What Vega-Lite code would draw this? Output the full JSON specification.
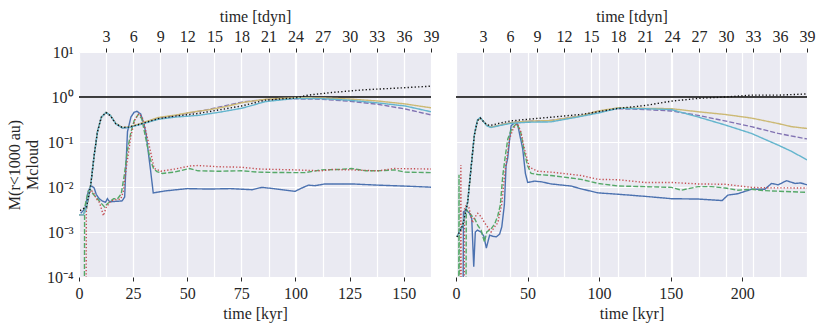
{
"$schema": "https://vega.github.io/schema/vega-lite/v6.json",
"padding": {"left": 6, "top": 8, "right": 5, "bottom": 3},
"background": "white",
"config": {
 "view": {"fill": "#EAEAF2", "stroke": null},
 "font": "Liberation Serif",
 "axis": {"domain": false, "gridColor": "white", "gridWidth": 1.2, "labelFont": "Liberation Serif", "titleFont": "Liberation Serif", "labelFontSize": 16, "titleFontSize": 16, "labelColor": "#262626", "titleColor": "#262626", "titleFontWeight": "normal", "tickColor": "#262626", "tickSize": 4, "labelFlush": false, "labelOverlap": false, "labelPadding": 4, "titlePadding": 4}
},
"datasets": {
 "one_left": [{"t":0,"v":1},{"t":162.63,"v":1}],
 "one_right": [{"t":0,"v":1},{"t":245.31,"v":1}],
 "left": [
{"s":"blue","t":0.8,"v":0.0026},{"s":"blue","t":2,"v":0.003},{"s":"blue","t":3,"v":0.0036},{"s":"blue","t":4,"v":0.007},{"s":"blue","t":5,"v":0.0098},{"s":"blue","t":6,"v":0.0104},{"s":"blue","t":7,"v":0.0095},{"s":"blue","t":8,"v":0.0068},{"s":"blue","t":9.3,"v":0.0055},{"s":"blue","t":10.5,"v":0.005},{"s":"blue","t":11.6,"v":0.0047},{"s":"blue","t":12.3,"v":0.0046},{"s":"blue","t":13.1,"v":0.0055},{"s":"blue","t":14,"v":0.0048},{"s":"blue","t":15,"v":0.0047},{"s":"blue","t":17,"v":0.0048},{"s":"blue","t":19.9,"v":0.0049},{"s":"blue","t":21.1,"v":0.006},{"s":"blue","t":21.7,"v":0.03},{"s":"blue","t":22.4,"v":0.17},{"s":"blue","t":24,"v":0.36},{"s":"blue","t":25.5,"v":0.46},{"s":"blue","t":26.8,"v":0.48},{"s":"blue","t":28.5,"v":0.42},{"s":"blue","t":30,"v":0.25},{"s":"blue","t":31,"v":0.15},{"s":"blue","t":32,"v":0.06},{"s":"blue","t":33,"v":0.025},{"s":"blue","t":34.3,"v":0.0074},{"s":"blue","t":40,"v":0.0082},{"s":"blue","t":50,"v":0.0092},{"s":"blue","t":60,"v":0.009},{"s":"blue","t":70,"v":0.0092},{"s":"blue","t":80,"v":0.0087},{"s":"blue","t":84.4,"v":0.0098},{"s":"blue","t":90,"v":0.0092},{"s":"blue","t":99.8,"v":0.008},{"s":"blue","t":103,"v":0.0095},{"s":"blue","t":106,"v":0.011},{"s":"blue","t":109,"v":0.0107},{"s":"blue","t":113.7,"v":0.0117},{"s":"blue","t":126,"v":0.0117},{"s":"blue","t":138,"v":0.011},{"s":"blue","t":150,"v":0.0105},{"s":"blue","t":162.63,"v":0.0099},
{"s":"green","t":2.4,"v":0.000001},{"s":"green","t":2.6,"v":0.0035},{"s":"green","t":3.5,"v":0.0055},{"s":"green","t":4.3,"v":0.0082},{"s":"green","t":5.4,"v":0.0085},{"s":"green","t":6.5,"v":0.007},{"s":"green","t":8.5,"v":0.0055},{"s":"green","t":10,"v":0.0045},{"s":"green","t":11.8,"v":0.0036},{"s":"green","t":13,"v":0.0042},{"s":"green","t":14.7,"v":0.0049},{"s":"green","t":16,"v":0.0055},{"s":"green","t":17.8,"v":0.0055},{"s":"green","t":19.5,"v":0.007},{"s":"green","t":20.9,"v":0.018},{"s":"green","t":22.5,"v":0.07},{"s":"green","t":24,"v":0.166},{"s":"green","t":25.5,"v":0.3},{"s":"green","t":27.4,"v":0.41},{"s":"green","t":29,"v":0.33},{"s":"green","t":31.6,"v":0.08},{"s":"green","t":33,"v":0.04},{"s":"green","t":34.4,"v":0.026},{"s":"green","t":36,"v":0.022},{"s":"green","t":38.5,"v":0.02},{"s":"green","t":44,"v":0.0214},{"s":"green","t":51,"v":0.0257},{"s":"green","t":55,"v":0.0229},{"s":"green","t":64.4,"v":0.0224},{"s":"green","t":75,"v":0.0229},{"s":"green","t":83,"v":0.0214},{"s":"green","t":90,"v":0.021},{"s":"green","t":99.8,"v":0.0209},{"s":"green","t":104.4,"v":0.0209},{"s":"green","t":112,"v":0.024},{"s":"green","t":120,"v":0.0245},{"s":"green","t":126,"v":0.0257},{"s":"green","t":132.5,"v":0.0229},{"s":"green","t":138,"v":0.0229},{"s":"green","t":145.8,"v":0.024},{"s":"green","t":150.8,"v":0.0214},{"s":"green","t":162.63,"v":0.0209},
{"s":"red","t":3.2,"v":0.000001},{"s":"red","t":3.4,"v":0.003},{"s":"red","t":4.5,"v":0.006},{"s":"red","t":5.5,"v":0.0085},{"s":"red","t":6.5,"v":0.0078},{"s":"red","t":8,"v":0.0055},{"s":"red","t":9.5,"v":0.0045},{"s":"red","t":11.3,"v":0.0023},{"s":"red","t":12.5,"v":0.0035},{"s":"red","t":14.7,"v":0.0049},{"s":"red","t":17,"v":0.0052},{"s":"red","t":19.3,"v":0.0054},{"s":"red","t":20.5,"v":0.008},{"s":"red","t":22,"v":0.03},{"s":"red","t":24,"v":0.14},{"s":"red","t":26,"v":0.33},{"s":"red","t":27.8,"v":0.43},{"s":"red","t":29.5,"v":0.33},{"s":"red","t":32.4,"v":0.085},{"s":"red","t":34.7,"v":0.026},{"s":"red","t":37.8,"v":0.0224},{"s":"red","t":44,"v":0.025},{"s":"red","t":51.7,"v":0.0295},{"s":"red","t":55,"v":0.03},{"s":"red","t":64.4,"v":0.0282},{"s":"red","t":75,"v":0.0275},{"s":"red","t":83,"v":0.0251},{"s":"red","t":99.8,"v":0.024},{"s":"red","t":112,"v":0.0229},{"s":"red","t":116.8,"v":0.0245},{"s":"red","t":126,"v":0.024},{"s":"red","t":138,"v":0.0229},{"s":"red","t":145.8,"v":0.0257},{"s":"red","t":162.63,"v":0.0251},
{"s":"purple","t":0,"v":0.0024},{"s":"purple","t":2,"v":0.0024},{"s":"purple","t":3.5,"v":0.0036},{"s":"purple","t":5.4,"v":0.011},{"s":"purple","t":7,"v":0.05},{"s":"purple","t":8.5,"v":0.166},{"s":"purple","t":10.3,"v":0.355},{"s":"purple","t":12.5,"v":0.45},{"s":"purple","t":14.5,"v":0.385},{"s":"purple","t":17,"v":0.255},{"s":"purple","t":20,"v":0.205},{"s":"purple","t":23,"v":0.21},{"s":"purple","t":27,"v":0.24},{"s":"purple","t":36.6,"v":0.34},{"s":"purple","t":45,"v":0.39},{"s":"purple","t":52,"v":0.45},{"s":"purple","t":60,"v":0.53},{"s":"purple","t":67,"v":0.63},{"s":"purple","t":76,"v":0.78},{"s":"purple","t":86,"v":0.88},{"s":"purple","t":100,"v":0.91},{"s":"purple","t":112,"v":0.89},{"s":"purple","t":124.5,"v":0.81},{"s":"purple","t":138,"v":0.69},{"s":"purple","t":150.8,"v":0.54},{"s":"purple","t":162.63,"v":0.40},
{"s":"yellow","t":0,"v":0.0024},{"s":"yellow","t":2,"v":0.0024},{"s":"yellow","t":3.5,"v":0.0036},{"s":"yellow","t":5.4,"v":0.011},{"s":"yellow","t":7,"v":0.05},{"s":"yellow","t":8.5,"v":0.166},{"s":"yellow","t":10.3,"v":0.355},{"s":"yellow","t":12.5,"v":0.455},{"s":"yellow","t":14.5,"v":0.39},{"s":"yellow","t":17,"v":0.26},{"s":"yellow","t":20,"v":0.21},{"s":"yellow","t":23,"v":0.215},{"s":"yellow","t":27,"v":0.245},{"s":"yellow","t":36.6,"v":0.35},{"s":"yellow","t":45,"v":0.40},{"s":"yellow","t":52,"v":0.46},{"s":"yellow","t":60,"v":0.52},{"s":"yellow","t":67,"v":0.60},{"s":"yellow","t":76,"v":0.76},{"s":"yellow","t":86,"v":0.89},{"s":"yellow","t":100,"v":0.965},{"s":"yellow","t":112,"v":0.955},{"s":"yellow","t":124.5,"v":0.905},{"s":"yellow","t":138,"v":0.815},{"s":"yellow","t":150.8,"v":0.70},{"s":"yellow","t":162.63,"v":0.575},
{"s":"cyan","t":0,"v":0.0024},{"s":"cyan","t":2,"v":0.0024},{"s":"cyan","t":3.5,"v":0.0036},{"s":"cyan","t":5.4,"v":0.011},{"s":"cyan","t":7,"v":0.05},{"s":"cyan","t":8.5,"v":0.166},{"s":"cyan","t":10.3,"v":0.355},{"s":"cyan","t":12.5,"v":0.455},{"s":"cyan","t":14.5,"v":0.39},{"s":"cyan","t":17,"v":0.255},{"s":"cyan","t":20,"v":0.205},{"s":"cyan","t":23,"v":0.21},{"s":"cyan","t":27,"v":0.235},{"s":"cyan","t":36.6,"v":0.32},{"s":"cyan","t":45,"v":0.36},{"s":"cyan","t":55,"v":0.39},{"s":"cyan","t":65,"v":0.46},{"s":"cyan","t":75,"v":0.56},{"s":"cyan","t":80,"v":0.65},{"s":"cyan","t":86,"v":0.79},{"s":"cyan","t":100,"v":0.93},{"s":"cyan","t":112,"v":0.92},{"s":"cyan","t":124.5,"v":0.85},{"s":"cyan","t":138,"v":0.74},{"s":"cyan","t":150.8,"v":0.63},{"s":"cyan","t":162.63,"v":0.47},
{"s":"black","t":0.5,"v":0.003},{"s":"black","t":2,"v":0.0033},{"s":"black","t":3.5,"v":0.0036},{"s":"black","t":5.4,"v":0.011},{"s":"black","t":7,"v":0.05},{"s":"black","t":8.5,"v":0.166},{"s":"black","t":10.3,"v":0.355},{"s":"black","t":12.5,"v":0.45},{"s":"black","t":14.5,"v":0.385},{"s":"black","t":17,"v":0.255},{"s":"black","t":20,"v":0.21},{"s":"black","t":23,"v":0.215},{"s":"black","t":27,"v":0.24},{"s":"black","t":36.6,"v":0.33},{"s":"black","t":45,"v":0.38},{"s":"black","t":55,"v":0.43},{"s":"black","t":65,"v":0.52},{"s":"black","t":75,"v":0.63},{"s":"black","t":86,"v":0.85},{"s":"black","t":100,"v":0.955},{"s":"black","t":106,"v":1.10},{"s":"black","t":116.7,"v":1.26},{"s":"black","t":132,"v":1.45},{"s":"black","t":147.5,"v":1.58},{"s":"black","t":162.63,"v":1.74}
 ],
 "right": [
{"s":"blue","t":4.8,"v":0.000001},{"s":"blue","t":5.2,"v":0.0028},{"s":"blue","t":6.5,"v":0.003},{"s":"blue","t":8,"v":0.0029},{"s":"blue","t":9.5,"v":0.0026},{"s":"blue","t":11,"v":0.002},{"s":"blue","t":12.4,"v":0.00017},{"s":"blue","t":13.5,"v":0.001},{"s":"blue","t":15,"v":0.0011},{"s":"blue","t":17.5,"v":0.001},{"s":"blue","t":19.5,"v":0.0008},{"s":"blue","t":21.2,"v":0.00044},{"s":"blue","t":23.5,"v":0.00085},{"s":"blue","t":26,"v":0.0008},{"s":"blue","t":28.2,"v":0.00078},{"s":"blue","t":30.5,"v":0.0009},{"s":"blue","t":32,"v":0.0013},{"s":"blue","t":33.8,"v":0.004},{"s":"blue","t":35,"v":0.03},{"s":"blue","t":36.1,"v":0.043},{"s":"blue","t":38.5,"v":0.23},{"s":"blue","t":41.3,"v":0.275},{"s":"blue","t":43,"v":0.25},{"s":"blue","t":46.6,"v":0.071},{"s":"blue","t":48.5,"v":0.02},{"s":"blue","t":50.1,"v":0.0126},{"s":"blue","t":54.9,"v":0.0135},{"s":"blue","t":60,"v":0.013},{"s":"blue","t":66.4,"v":0.0117},{"s":"blue","t":80.4,"v":0.0105},{"s":"blue","t":87.4,"v":0.0091},{"s":"blue","t":99.3,"v":0.0074},{"s":"blue","t":113.3,"v":0.0069},{"s":"blue","t":132,"v":0.0062},{"s":"blue","t":150.6,"v":0.0055},{"s":"blue","t":169.2,"v":0.0054},{"s":"blue","t":186,"v":0.005},{"s":"blue","t":190,"v":0.0066},{"s":"blue","t":197,"v":0.0071},{"s":"blue","t":206.5,"v":0.0089},{"s":"blue","t":215.8,"v":0.0089},{"s":"blue","t":220.5,"v":0.012},{"s":"blue","t":225.2,"v":0.0112},{"s":"blue","t":231,"v":0.0138},{"s":"blue","t":237,"v":0.012},{"s":"blue","t":241,"v":0.0123},{"s":"blue","t":245.31,"v":0.0112},
{"s":"green","t":1.8,"v":0.000001},{"s":"green","t":2.1,"v":0.0186},{"s":"green","t":2.4,"v":0.000001},{"s":"green","t":6.8,"v":0.000001},{"s":"green","t":7.2,"v":0.0032},{"s":"green","t":8.5,"v":0.0028},{"s":"green","t":10,"v":0.0025},{"s":"green","t":12,"v":0.0021},{"s":"green","t":13,"v":0.002},{"s":"green","t":15.2,"v":0.0014},{"s":"green","t":17.5,"v":0.0011},{"s":"green","t":19.9,"v":0.0006},{"s":"green","t":21.5,"v":0.001},{"s":"green","t":24.5,"v":0.00117},{"s":"green","t":27,"v":0.0015},{"s":"green","t":29.2,"v":0.0023},{"s":"green","t":31,"v":0.004},{"s":"green","t":32.7,"v":0.018},{"s":"green","t":34.5,"v":0.05},{"s":"green","t":36.2,"v":0.117},{"s":"green","t":39,"v":0.2},{"s":"green","t":42.3,"v":0.257},{"s":"green","t":45,"v":0.18},{"s":"green","t":47.8,"v":0.06},{"s":"green","t":50,"v":0.03},{"s":"green","t":52.5,"v":0.02},{"s":"green","t":57.1,"v":0.019},{"s":"green","t":66.4,"v":0.018},{"s":"green","t":87.4,"v":0.0148},{"s":"green","t":99.3,"v":0.012},{"s":"green","t":113.3,"v":0.0105},{"s":"green","t":132,"v":0.0102},{"s":"green","t":150.6,"v":0.0098},{"s":"green","t":157.5,"v":0.0085},{"s":"green","t":169.2,"v":0.0102},{"s":"green","t":178.6,"v":0.0102},{"s":"green","t":188,"v":0.0095},{"s":"green","t":197,"v":0.0085},{"s":"green","t":206.5,"v":0.0089},{"s":"green","t":215.8,"v":0.0083},{"s":"green","t":245.31,"v":0.0076},
{"s":"red","t":3.1,"v":0.000001},{"s":"red","t":3.4,"v":0.031},{"s":"red","t":3.7,"v":0.000001},{"s":"red","t":5.5,"v":0.000001},{"s":"red","t":6,"v":0.0033},{"s":"red","t":7.5,"v":0.0042},{"s":"red","t":9,"v":0.0035},{"s":"red","t":11.6,"v":0.0016},{"s":"red","t":13,"v":0.0021},{"s":"red","t":15.2,"v":0.0026},{"s":"red","t":17.5,"v":0.0022},{"s":"red","t":20,"v":0.0016},{"s":"red","t":24.5,"v":0.001},{"s":"red","t":27,"v":0.0013},{"s":"red","t":29.2,"v":0.0016},{"s":"red","t":32,"v":0.0042},{"s":"red","t":33.9,"v":0.018},{"s":"red","t":37.4,"v":0.117},{"s":"red","t":40,"v":0.2},{"s":"red","t":43.1,"v":0.257},{"s":"red","t":45.5,"v":0.16},{"s":"red","t":47.8,"v":0.07},{"s":"red","t":51.3,"v":0.0275},{"s":"red","t":57.1,"v":0.0224},{"s":"red","t":66.4,"v":0.0214},{"s":"red","t":87.4,"v":0.018},{"s":"red","t":99.3,"v":0.0148},{"s":"red","t":113.3,"v":0.0145},{"s":"red","t":132,"v":0.0126},{"s":"red","t":150.6,"v":0.0126},{"s":"red","t":169.2,"v":0.0117},{"s":"red","t":188,"v":0.0115},{"s":"red","t":206.5,"v":0.0098},{"s":"red","t":215.8,"v":0.0096},{"s":"red","t":245.31,"v":0.0095},
{"s":"purple","t":0.7,"v":0.00078},{"s":"purple","t":4.7,"v":0.0014},{"s":"purple","t":8.2,"v":0.0047},{"s":"purple","t":10.5,"v":0.026},{"s":"purple","t":12.8,"v":0.14},{"s":"purple","t":15,"v":0.3},{"s":"purple","t":17,"v":0.34},{"s":"purple","t":19,"v":0.29},{"s":"purple","t":21.5,"v":0.235},{"s":"purple","t":24.5,"v":0.214},{"s":"purple","t":30,"v":0.235},{"s":"purple","t":38.5,"v":0.27},{"s":"purple","t":50,"v":0.29},{"s":"purple","t":66.4,"v":0.3},{"s":"purple","t":87.4,"v":0.38},{"s":"purple","t":99.3,"v":0.48},{"s":"purple","t":113.3,"v":0.55},{"s":"purple","t":132,"v":0.525},{"s":"purple","t":150.6,"v":0.49},{"s":"purple","t":169.2,"v":0.39},{"s":"purple","t":187.9,"v":0.295},{"s":"purple","t":206.5,"v":0.219},{"s":"purple","t":225.2,"v":0.155},{"s":"purple","t":245.31,"v":0.117},
{"s":"yellow","t":0.7,"v":0.00078},{"s":"yellow","t":4.7,"v":0.0014},{"s":"yellow","t":8.2,"v":0.0047},{"s":"yellow","t":10.5,"v":0.026},{"s":"yellow","t":12.8,"v":0.14},{"s":"yellow","t":15,"v":0.3},{"s":"yellow","t":17,"v":0.34},{"s":"yellow","t":19,"v":0.29},{"s":"yellow","t":21.5,"v":0.235},{"s":"yellow","t":24.5,"v":0.214},{"s":"yellow","t":30,"v":0.235},{"s":"yellow","t":38.5,"v":0.27},{"s":"yellow","t":50,"v":0.29},{"s":"yellow","t":66.4,"v":0.3},{"s":"yellow","t":87.4,"v":0.38},{"s":"yellow","t":99.3,"v":0.49},{"s":"yellow","t":113.3,"v":0.575},{"s":"yellow","t":132,"v":0.56},{"s":"yellow","t":150.6,"v":0.55},{"s":"yellow","t":169.2,"v":0.47},{"s":"yellow","t":187.9,"v":0.41},{"s":"yellow","t":206.5,"v":0.34},{"s":"yellow","t":225.2,"v":0.257},{"s":"yellow","t":234.5,"v":0.219},{"s":"yellow","t":245.31,"v":0.2},
{"s":"cyan","t":0.7,"v":0.00078},{"s":"cyan","t":4.7,"v":0.0014},{"s":"cyan","t":8.2,"v":0.0047},{"s":"cyan","t":10.5,"v":0.026},{"s":"cyan","t":12.8,"v":0.145},{"s":"cyan","t":15,"v":0.31},{"s":"cyan","t":17,"v":0.35},{"s":"cyan","t":19,"v":0.29},{"s":"cyan","t":21.5,"v":0.23},{"s":"cyan","t":24.5,"v":0.21},{"s":"cyan","t":30,"v":0.23},{"s":"cyan","t":38.5,"v":0.26},{"s":"cyan","t":50,"v":0.275},{"s":"cyan","t":66.4,"v":0.28},{"s":"cyan","t":85.3,"v":0.36},{"s":"cyan","t":99.3,"v":0.44},{"s":"cyan","t":113.3,"v":0.56},{"s":"cyan","t":132,"v":0.55},{"s":"cyan","t":150.6,"v":0.525},{"s":"cyan","t":169.2,"v":0.36},{"s":"cyan","t":187.9,"v":0.24},{"s":"cyan","t":206.5,"v":0.155},{"s":"cyan","t":225.2,"v":0.085},{"s":"cyan","t":234.5,"v":0.062},{"s":"cyan","t":245.31,"v":0.04},
{"s":"black","t":0.7,"v":0.00078},{"s":"black","t":4.7,"v":0.0014},{"s":"black","t":8.2,"v":0.0047},{"s":"black","t":10.5,"v":0.026},{"s":"black","t":12.8,"v":0.14},{"s":"black","t":15,"v":0.3},{"s":"black","t":17,"v":0.34},{"s":"black","t":19,"v":0.29},{"s":"black","t":21.5,"v":0.24},{"s":"black","t":24.5,"v":0.235},{"s":"black","t":30,"v":0.26},{"s":"black","t":38.5,"v":0.295},{"s":"black","t":50,"v":0.32},{"s":"black","t":66.4,"v":0.355},{"s":"black","t":87.4,"v":0.41},{"s":"black","t":99.3,"v":0.47},{"s":"black","t":113.3,"v":0.56},{"s":"black","t":132,"v":0.645},{"s":"black","t":150.6,"v":0.81},{"s":"black","t":169.2,"v":0.93},{"s":"black","t":187.9,"v":1.0},{"s":"black","t":206.5,"v":1.1},{"s":"black","t":225.2,"v":1.1},{"s":"black","t":245.31,"v":1.17}
 ]
},
"hconcat": [
 {
  "width": 352, "height": 225,
  "layer": [
   {
    "data": {"name": "one_left"},
    "mark": {"type": "line", "color": "black", "strokeWidth": 1.5, "clip": true},
    "encoding": {
     "x": {"field": "t", "type": "quantitative", "scale": {"domain": [0, 162.63], "nice": false, "zero": false},
           "axis": {"orient": "top", "values": [12.51, 25.02, 37.53, 50.04, 62.55, 75.06, 87.57, 100.08, 112.59, 125.1, 137.61, 150.12, 162.63], "labelExpr": "format(datum.value/4.17, '.0f')", "title": "time [tdyn]", "grid": true}},
     "y": {"field": "v", "type": "quantitative", "scale": {"type": "log", "domain": [0.0001, 10], "nice": false},
           "axis": {"values": [0.0001, 0.001, 0.01, 0.1, 1, 10], "ticks": false, "grid": true, "labelPadding": 6, "titlePadding": 6,
                    "labelExpr": "datum.value >= 5 ? '10¹' : datum.value >= 0.5 ? '10⁰' : datum.value >= 0.05 ? '10⁻¹' : datum.value >= 0.005 ? '10⁻²' : datum.value >= 0.0005 ? '10⁻³' : '10⁻⁴'",
                    "title": ["M(r<1000 au)", "Mcloud"]}}
    }
   },
   {
    "data": {"name": "left"},
    "mark": {"type": "line", "strokeWidth": 1.4, "clip": true},
    "encoding": {
     "x": {"field": "t", "type": "quantitative", "axis": {"values": [0, 25, 50, 75, 100, 125, 150], "title": "time [kyr]", "grid": true}},
     "y": {"field": "v", "type": "quantitative",
           "axis": {"values": [0.0001, 0.001, 0.01, 0.1, 1, 10], "ticks": false, "grid": true, "labelPadding": 6, "titlePadding": 6,
                    "labelExpr": "datum.value >= 5 ? '10¹' : datum.value >= 0.5 ? '10⁰' : datum.value >= 0.05 ? '10⁻¹' : datum.value >= 0.005 ? '10⁻²' : datum.value >= 0.0005 ? '10⁻³' : '10⁻⁴'",
                    "title": ["M(r<1000 au)", "Mcloud"]}},
     "color": {"field": "s", "type": "nominal", "legend": null, "scale": {"domain": ["blue", "green", "red", "purple", "yellow", "cyan", "black"], "range": ["#4C72B0", "#55A868", "#C44E52", "#8172B2", "#CCB974", "#64B5CD", "#111111"]}},
     "strokeDash": {"field": "s", "type": "nominal", "legend": null, "scale": {"domain": ["blue", "green", "red", "purple", "yellow", "cyan", "black"], "range": [[1, 0], [5, 2], [1.3, 2], [5, 2], [1, 0], [1, 0], [1.3, 2.2]]}}
    }
   }
  ],
  "resolve": {"axis": {"x": "independent"}}
 },
 {
  "width": 351, "height": 225,
  "layer": [
   {
    "data": {"name": "one_right"},
    "mark": {"type": "line", "color": "black", "strokeWidth": 1.5, "clip": true},
    "encoding": {
     "x": {"field": "t", "type": "quantitative", "scale": {"domain": [0, 245.31], "nice": false, "zero": false},
           "axis": {"orient": "top", "values": [18.87, 37.74, 56.61, 75.48, 94.35, 113.22, 132.09, 150.96, 169.83, 188.7, 207.57, 226.44, 245.31], "labelExpr": "format(datum.value/6.29, '.0f')", "title": "time [tdyn]", "grid": true}},
     "y": {"field": "v", "type": "quantitative", "scale": {"type": "log", "domain": [0.0001, 10], "nice": false},
           "axis": {"values": [0.0001, 0.001, 0.01, 0.1, 1, 10], "ticks": false, "labels": false, "grid": true, "title": null}}
    }
   },
   {
    "data": {"name": "right"},
    "mark": {"type": "line", "strokeWidth": 1.4, "clip": true},
    "encoding": {
     "x": {"field": "t", "type": "quantitative", "axis": {"values": [0, 50, 100, 150, 200], "title": "time [kyr]", "grid": true}},
     "y": {"field": "v", "type": "quantitative",
           "axis": {"values": [0.0001, 0.001, 0.01, 0.1, 1, 10], "ticks": false, "labels": false, "grid": true, "title": null}},
     "color": {"field": "s", "type": "nominal", "legend": null, "scale": {"domain": ["blue", "green", "red", "purple", "yellow", "cyan", "black"], "range": ["#4C72B0", "#55A868", "#C44E52", "#8172B2", "#CCB974", "#64B5CD", "#111111"]}},
     "strokeDash": {"field": "s", "type": "nominal", "legend": null, "scale": {"domain": ["blue", "green", "red", "purple", "yellow", "cyan", "black"], "range": [[1, 0], [5, 2], [1.3, 2], [5, 2], [1, 0], [1, 0], [1.3, 2.2]]}}
    }
   }
  ],
  "resolve": {"axis": {"x": "independent"}}
 }
],
"spacing": 25,
"bounds": "flush"
}
